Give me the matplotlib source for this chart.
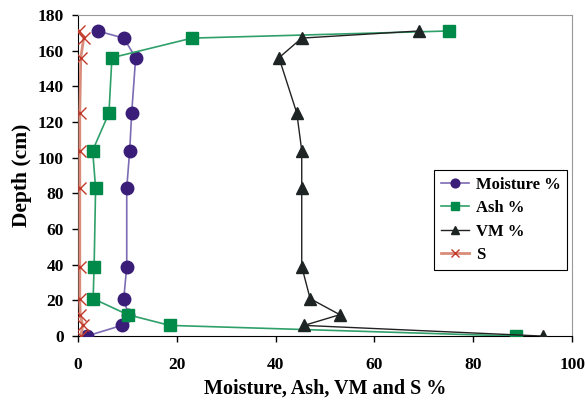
import matplotlib.pyplot as plt

plt.rcParams['font.family'] = ['Liberation Serif', 'DejaVu Serif']

# depth of each sample (cm)
depth = [0, 6, 12, 21, 39, 83, 104, 125, 156, 167, 171]

moisture = [1.8, 8.9, 10.2, 9.3, 9.9, 9.9, 10.5, 10.9, 11.7, 9.3, 4.0]
ash = [88.7, 18.6, 10.1, 3.1, 3.3, 3.6, 3.0, 6.3, 6.9, 23.1, 75.1]
vm = [94.1, 45.8, 53.0, 47.0, 45.3, 45.3, 45.3, 44.3, 40.7, 45.3, 69.0]
sulfur = [0.6, 1.0, 0.5, 0.4, 0.4, 0.4, 0.4, 0.4, 0.6, 1.2, 0.2]

fig = plt.figure(figsize=(5.85, 4.03), dpi=100)
ax = fig.add_axes([0.133, 0.166, 0.845, 0.797])

ax.plot(moisture, depth, color='#7b6bb3', lw=1.2, marker='o', ms=9,
        mfc='#3a1d78', mec='#3a1d78', label='Moisture %', zorder=3)
ax.plot(ash, depth, color='#2fa06a', lw=1.2, marker='s', ms=9,
        mfc='#008a4a', mec='#008a4a', label='Ash %', zorder=3)
ax.plot(vm, depth, color='#222222', lw=1.0, marker='^', ms=9,
        mfc='#1e2424', mec='#1e2424', label='VM %', zorder=3)
ax.plot(sulfur, depth, color='#d98c7a', lw=2.0, marker='x', ms=8, mew=1.0,
        mfc='#c0392b', mec='#c0392b', label='S', zorder=4)

ax.set_xlim(0, 100)
ax.set_ylim(0, 180)
ax.set_xticks(range(0, 101, 20))
ax.set_yticks(range(0, 181, 20))
ax.tick_params(labelsize=12.5, length=4, direction='out', width=1)
ax.tick_params(axis='x', pad=11)
ax.tick_params(axis='y', pad=6)
for lab in ax.get_xticklabels() + ax.get_yticklabels():
    lab.set_fontweight('bold')

ax.spines['top'].set_color('#999999')
ax.spines['right'].set_color('#999999')
ax.spines['left'].set_color('black')
ax.spines['bottom'].set_color('black')

ax.set_xlabel('Moisture, Ash, VM and S %', fontsize=14.5, fontweight='bold', labelpad=4)
ax.set_ylabel('Depth (cm)', fontsize=15.5, fontweight='bold', labelpad=4)

leg = ax.legend(loc='upper right', bbox_to_anchor=(0.99, 0.517), fancybox=False,
                edgecolor='black', framealpha=1, prop={'weight': 'bold', 'size': 12},
                handlelength=1.7, borderpad=0.4, labelspacing=0.45, markerscale=0.7,
                borderaxespad=0, handletextpad=0.4)
leg.get_frame().set_linewidth(0.8)

fig.savefig('out.png', dpi=100)
